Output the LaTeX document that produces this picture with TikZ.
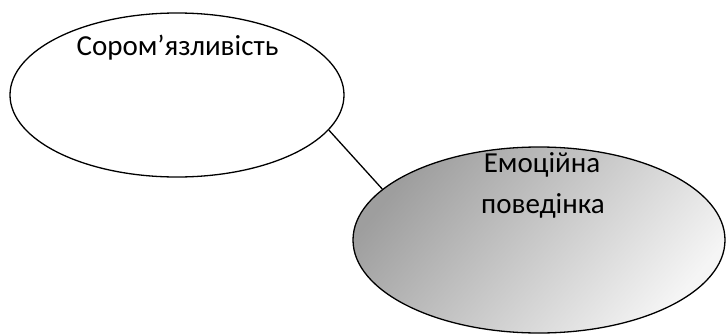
\documentclass[tikz,border=0pt]{standalone}
\usepackage{fontspec}
\setmainfont{Carlito}
\usetikzlibrary{shapes.geometric}
\begin{document}
\begin{tikzpicture}[x=1pt,y=-1pt,
  bubble/.style={ellipse,draw=black,line width=1.3pt,inner sep=0pt},
  caption/.style={anchor=base,font=\fontsize{29}{29}\selectfont,inner sep=0pt}]
  \useasboundingbox (0,0) rectangle (726,335);
  \clip (0,0) rectangle (726,335);
  % plain ellipse, upper left
  \node[bubble,fill=white,minimum width=334pt,minimum height=164pt] (shy) at (177,95) {};
  % shaded ellipse, lower right
  \node[bubble,top color=black!38,bottom color=black!4,shading angle=50,
        minimum width=372pt,minimum height=186pt] (emo) at (539,240) {};
  \draw[line width=1.3pt] (shy.-13) -- (emo.162);
  \node[caption] (shyt) at (177.5,55) {Сором’язливість};
  \node[caption] (emot1) at (542,172) {Емоційна};
  \node[caption] (emot2) at (543,213) {поведінка};
\end{tikzpicture}
\end{document}
